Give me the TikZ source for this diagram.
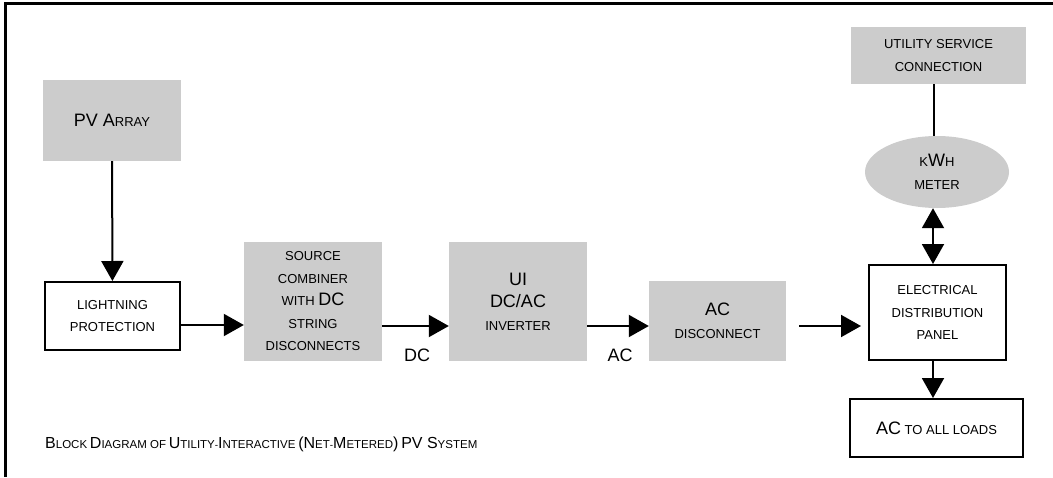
\documentclass[tikz,border=0pt]{standalone}
\usepackage{fontspec}
\setmainfont{Liberation Sans}
\usepackage{tikz}
\usetikzlibrary{arrows.meta,shapes.geometric}
\definecolor{box_gray}{HTML}{CCCCCC}
\newcommand{\bg}{\fontsize{18}{20}\selectfont}
\newcommand{\sm}{\fontsize{13}{22.5}\selectfont}
\newcommand{\cb}{\fontsize{16}{18}\selectfont}
\newcommand{\cs}{\fontsize{11.5}{14}\selectfont}
\tikzset{
  graybox/.style={fill=box_gray, inner sep=0pt, align=center, font=\sm},
  whitebox/.style={draw, line width=2pt, inner sep=0pt, align=center, font=\sm},
  conn/.style={line width=2pt, -{Triangle[width=22pt,length=20pt]}},
}

\begin{document}
\begin{tikzpicture}[x=1pt, y=-1pt]
  \useasboundingbox (0,0) rectangle (1053,477);

  % Frame
  \draw[line width=3pt] (1053,3) -- (5,3) -- (5,477);

  % Blocks
  \node[graybox, minimum width=138pt, minimum height=81pt] (pv) at (112,120.5) {{\bg PV A}RRAY};
  \node[whitebox, minimum width=135pt, minimum height=68pt] (light) at (112.5,316) {LIGHTNING\\PROTECTION};
  \node[graybox, minimum width=138pt, minimum height=119pt] (comb) at (313,301.5)
    {SOURCE\\COMBINER\\WITH {\bg DC}\\STRING\\DISCONNECTS};
  \node[graybox, minimum width=138pt, minimum height=119pt] (inv) at (518,301.5)
    {{\bg UI}\\{\bg DC/AC}\\INVERTER};
  \node[graybox, minimum width=137pt, minimum height=80pt] (acdisc) at (717.5,321)
    {{\bg AC}\\DISCONNECT};
  \node[whitebox, minimum width=137pt, minimum height=95pt] (panel) at (937.5,312.5)
    {ELECTRICAL\\DISTRIBUTION\\PANEL};
  \node[whitebox, minimum width=173pt, minimum height=58pt] (loads) at (936.5,428)
    {{\bg AC} TO ALL LOADS};
  \node[ellipse, fill=box_gray, inner sep=0pt, minimum width=144pt, minimum height=72pt,
    align=center, font=\sm] (meter) at (937,172) {K{\bg W}H\\METER};
  \node[graybox, minimum width=175pt, minimum height=57pt] (util) at (938.5,55.5)
    {UTILITY SERVICE\\CONNECTION};

  % Connectors
  \draw[conn] (pv) -- (light);
  \draw[conn] (light.east |- 0,325) -- (comb.west |- 0,325);
  \draw[conn] (comb.east |- 0,326) -- (inv.west |- 0,326);
  \draw[conn] (inv.east |- 0,326) -- (acdisc.west |- 0,326);
  \draw[conn, shorten <=13pt, shorten >=7pt] (acdisc.east |- 0,326) -- (panel.west |- 0,326);
  \draw[conn] (panel.south -| 933,0) -- (loads.north -| 933,0);
  \draw[line width=2pt] (util.south -| 934,0) -- (meter.north -| 934,0);
  \draw[conn, {Triangle[width=22pt,length=20pt]}-{Triangle[width=22pt,length=20pt]}] (meter.south -| 933,0) -- (panel.north -| 933,0);

  % Labels
  \node[font=\bg] (dclbl) at (417,355) {DC};
  \node[font=\bg] (aclbl) at (620,355) {AC};
  \node[anchor=west, inner sep=0pt] (caption) at (45,444)
    {{\cb B}{\cs LOCK} {\cb D}{\cs IAGRAM OF} {\cb U}{\cs TILITY}-{\cb I}{\cs NTERACTIVE} {\cb (N}{\cs ET}-{\cb M}{\cs ETERED}{\cb )} {\cb PV S}{\cs YSTEM}};
\end{tikzpicture}
\end{document}
